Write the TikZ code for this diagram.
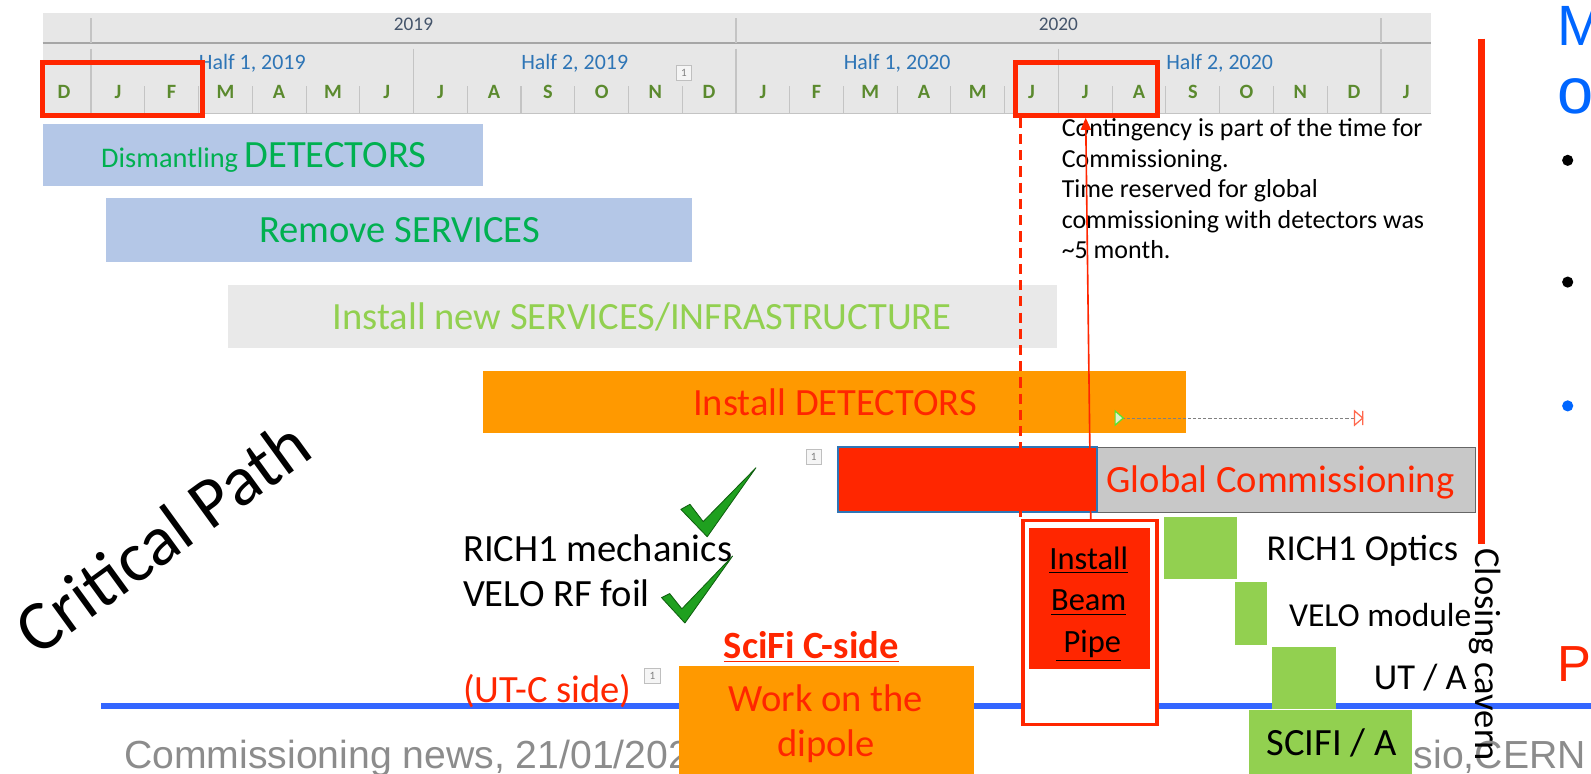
\documentclass[tikz,border=0pt]{standalone}
\usepackage{fontspec}
\setmainfont{Carlito}
\newfontfamily\arialf{Liberation Sans}
\usetikzlibrary{fit,arrows.meta}
\definecolor{hdrbg}{HTML}{E7E7E7}
\definecolor{hdrline}{HTML}{C4C4C4}
\definecolor{yeartxt}{HTML}{44546A}
\definecolor{halftxt}{HTML}{2E75B6}
\definecolor{monthtxt}{HTML}{5B8A2E}
\definecolor{mred}{HTML}{FF2600}
\definecolor{boxblue}{HTML}{B4C7E7}
\definecolor{dgreen}{HTML}{00B050}
\definecolor{lgreen}{HTML}{92D050}
\definecolor{lgray}{HTML}{E9E9E9}
\definecolor{morange}{HTML}{FF9900}
\definecolor{cgray}{HTML}{C8C8C8}
\definecolor{lineblue}{HTML}{3366FF}
\definecolor{foot}{HTML}{8C8C8C}
\definecolor{slideblue}{HTML}{0066FF}
\definecolor{checkg}{HTML}{1FA01F}
\definecolor{checkd}{HTML}{0E5E0E}
\newcommand\fs[2]{\fontsize{#1}{#2}\selectfont}
\begin{document}
\begin{tikzpicture}[x=0.5pt,y=-0.5pt,
  barbox/.style={inner sep=0pt},
  month/.style={inner sep=0pt, text=monthtxt, font={\bfseries\fs{10pt}{11pt}}},
  halflbl/.style={inner sep=0pt, text=halftxt, font={\fs{10.8pt}{12pt}}},
  yearlbl/.style={inner sep=0pt, text=yeartxt, font={\fs{9.5pt}{11pt}}},
  hbox/.style={draw=mred, line width=2.5pt, inner sep=0pt},
  btxt/.style={inner sep=0pt, anchor=base, font={\fs{19pt}{22pt}}},
  txtl/.style={inner sep=0pt, anchor=base west},
  cmt/.style={draw=gray!50, fill=gray!8, inner sep=0pt, minimum size=7.5pt, font={\fs{5.5pt}{6pt}}, text=gray},
  chk/.style={fill=checkg, draw=checkd, line width=0.4pt, line join=round}]
\useasboundingbox (0,0) rectangle (1568,762);
\clip (0,0) rectangle (1568,762);
\fill[white] (0,0) rectangle (1568,762);

% ---------- header ----------
\node[barbox, fill=hdrbg, fit={(42,13) (1410,112)}] (hdr) {};
\draw[gray!70, line width=0.9pt] (42,42) -- (1410,42);
\draw[hdrline, line width=0.8pt] (42,112) -- (1410,112);
\foreach \k in {1,2,3,4,5,7,8,9,10,11,13,14,15,16,17,19,20,21,22,23}
  \draw[hdrline, line width=0.5pt] ({89.7+52.97*\k},85) -- ({89.7+52.97*\k},112);
\foreach \k in {0,6,12,18,24}
  \draw[hdrline, line width=0.6pt] ({89.7+52.97*\k},48) -- ({89.7+52.97*\k},112);
\foreach \k in {0,12,24}
  \draw[hdrline, line width=0.6pt] ({89.7+52.97*\k},18) -- ({89.7+52.97*\k},42);
\node[yearlbl] (y19) at (407.5,24) {2019};
\node[yearlbl] (y20) at (1043,24) {2020};
\node[halflbl] (h1) at (248.6,62) {Half 1, 2019};
\node[halflbl] (h2) at (566.4,62) {Half 2, 2019};
\node[halflbl] (h3) at (884.2,62) {Half 1, 2020};
\node[halflbl] (h4) at (1202,62) {Half 2, 2020};
\node[month] (md0) at (63,91) {D};
\foreach \m [count=\i] in {J,F,M,A,M,J,J,A,S,O,N,D,J,F,M,A,M,J,J,A,S,O,N,D}
  \node[month] (m\i) at ({89.7+52.97*(\i-0.5)},91) {\m};
\node[month] (mj) at (1386,91) {J};
\node[cmt] (c1) at (674,72) {1};
\node[hbox, fit={(42,62) (200,114)}] (hb1) {};
\node[hbox, fit={(1001,62) (1141,114)}] (hb2) {};

% ---------- footer (behind) ----------
\node[txtl, font={\arialf\fs{19.3pt}{22pt}}, text=foot] (ft1) at (122,757) {Commissioning news, 21/01/2020};
\node[txtl, font={\arialf\fs{19.3pt}{22pt}}, text=foot] (ft2) at (1393,757) {sio,CERN};
\coordinate (bl1) at (100,696);
\coordinate (bl2) at (1568,696);
\draw[lineblue, line width=3pt] (bl1) -- (bl2);

% ---------- bars ----------
\node[barbox, fill=boxblue, fit={(42,122) (476,183)}] (dis) {};
\node[btxt, text=dgreen] (dist) at (260,165) {\fs{14pt}{16pt}Dismantling \fs{19pt}{22pt}DETECTORS};
\node[barbox, fill=boxblue, fit={(104,195) (682,258)}] (rem) {};
\node[btxt, text=dgreen] (remt) at (394,239) {Remove SERVICES};
\node[barbox, fill=lgray, fit={(225,281) (1042,343)}] (inf) {};
\node[btxt, text=lgreen] (inft) at (633,325) {Install new SERVICES/INFRASTRUCTURE};
\node[barbox, fill=morange, fit={(476,366) (1169,427)}] (idet) {};
\node[btxt, text=mred] (idett) at (823,409) {Install DETECTORS};

% marker row
\coordinate (mk1) at (1106,412);
\coordinate (mk2) at (1335,412);
\draw[gray, dash pattern=on 1.5pt off 1pt, line width=0.3pt] (mk1) -- (mk2);
\draw[lgreen!60!green, line width=0.6pt, fill=lgreen!30] (1099,405) -- (1107,412) -- (1099,419) -- cycle;
\draw[mred!70, line width=0.6pt] (1335,405) -- (1343,412) -- (1335,419) -- cycle (1343,405) -- (1343,419);

% global commissioning
\node[barbox, fill=cgray, draw=gray!80!black, line width=0.6pt, fit={(1081,441) (1454,505)}] (gcg) {};
\node[barbox, fill=mred, draw=halftxt, line width=1pt, fit={(826,441) (1081,505)}] (gcr) {};
\node[btxt, text=mred] (gct) at (1262,485) {Global Commissioning};
\node[cmt] (c2) at (802,450) {1};

% contingency text
\node[txtl, font={\fs{12.8pt}{15pt}}] (ct1) at (1046,135) {Contingency is part of the time for};
\node[txtl, font={\fs{12.8pt}{15pt}}] (ct2) at (1046,165) {Commissioning.};
\node[txtl, font={\fs{12.8pt}{15pt}}] (ct3) at (1046,195) {Time reserved for global};
\node[txtl, font={\fs{12.8pt}{15pt}}] (ct4) at (1046,225) {commissioning with detectors was};
\node[txtl, font={\fs{12.8pt}{15pt}}] (ct5) at (1046,255) {\textasciitilde5 month.};

% beam pipe
\node[barbox, draw=mred, line width=1.8pt, fill=white, fit={(1008,513) (1140,714)}] (bpo) {};
\node[barbox, fill=mred, fit={(1014,520) (1133,659)}] (bpi) {};
\node[inner sep=0pt, anchor=base, font={\fs{16pt}{20pt}}] (bp1) at (1073,561) {\underline{Install}};
\node[inner sep=0pt, anchor=base, font={\fs{16pt}{20pt}}] (bp2) at (1073,602) {\underline{Beam}};
\node[inner sep=0pt, anchor=base, font={\fs{16pt}{20pt}}] (bp3) at (1073,643) {\underline{\ Pipe}};

% red connectors
\coordinate (dtop) at (1006,116);
\coordinate (dbot) at (1006,513);
\draw[mred, line width=1.3pt, dash pattern=on 5pt off 3pt] (dtop) -- (dbot);
\coordinate (stop) at (1070,116);
\coordinate (sbot) at (1075,513);
\draw[mred, line width=0.8pt, -{Triangle[length=6pt,width=5pt]}] (sbot) -- (stop);

% green boxes
\node[barbox, fill=lgreen, fit={(1147,510) (1219,571)}] (g1) {};
\node[barbox, fill=lgreen, fit={(1217,574) (1249,636)}] (g2) {};
\node[barbox, fill=lgreen, fit={(1254,638) (1317,699)}] (g3) {};
\node[barbox, fill=lgreen, fit={(1231,700) (1392,775)}] (g4) {};
\node[txtl, font={\fs{18pt}{21pt}}] (l1) at (1248,552) {RICH1 Optics};
\node[txtl, font={\fs{16.5pt}{20pt}}] (l2) at (1270,617) {VELO module};
\node[inner sep=0pt, anchor=base east, font={\fs{18pt}{21pt}}] (l3) at (1446,680) {UT / A};
\node[txtl, font={\fs{19pt}{22pt}}] (l4) at (1248,745) {SCIFI / A};

% dipole
\node[barbox, fill=morange, fit={(669,656) (960,775)}] (dip) {};
\node[btxt, text=mred] (dp1) at (814,701) {Work on the};
\node[btxt, text=mred] (dp2) at (814,746) {dipole};
\node[txtl, text=mred, font={\bfseries\fs{19pt}{22pt}}] (sci) at (713,649) {\underline{SciFi C-side}};
\node[txtl, text=mred, font={\fs{19pt}{22pt}}] (utc) at (456,692) {(UT-C side)};
\node[cmt] (c3) at (643,666) {1};

% left texts
\node[txtl, font={\fs{19pt}{22pt}}] (r1) at (456,553) {RICH1 mechanics};
\node[txtl, font={\fs{19pt}{22pt}}] (r2) at (456,598) {VELO RF foil};
\filldraw[chk] (671,502) -- (697,529) -- (745,461) -- (693,514) -- (680,497) -- cycle;
\filldraw[chk] (652,589) -- (675,614) -- (722,548) -- (672,600) -- (660,585) -- cycle;
\node[rotate=36, inner sep=0pt, font={\fs{35pt}{40pt}}] (cp) at (160,529) {Critical Path};

% closing cavern
\coordinate (cv1) at (1460,38);
\coordinate (cv2) at (1460,536);
\draw[mred, line width=3.5pt] (cv1) -- (cv2);
\node[inner sep=0pt, anchor=base west, rotate=-90, font={\fs{18pt}{21pt}}] (cc) at (1454,540) {Closing cavern};

% right slide fragments
\node[txtl, text=slideblue, font={\arialf\fs{28pt}{30pt}}] (sM) at (1535,45) {M};
\node[txtl, text=slideblue, font={\arialf\fs{32pt}{34pt}}] (so) at (1535,112) {o};
\node[circle, fill=black, inner sep=0pt, minimum size=5.5pt] (b1) at (1545,158) {};
\node[circle, fill=black, inner sep=0pt, minimum size=5.5pt] (b2) at (1545,278) {};
\node[circle, fill=slideblue, inner sep=0pt, minimum size=5.5pt] (b3) at (1545,400) {};
\node[txtl, text=mred, font={\arialf\fs{25pt}{28pt}}] (sP) at (1535,672) {P};
\end{tikzpicture}
\end{document}
